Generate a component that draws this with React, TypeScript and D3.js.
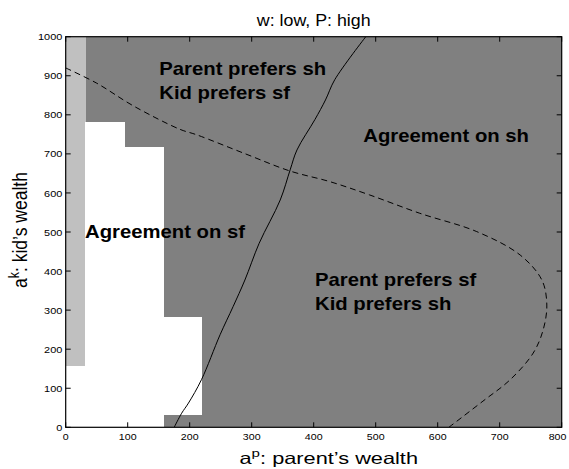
import React from "react";
import * as d3 from "d3";

const W = 569;
const H = 469;
const X_DOMAIN = [0, 800];
const Y_DOMAIN = [0, 1000];
const X_TICKS = [0, 100, 200, 300, 400, 500, 600, 700, 800];
const Y_TICKS = [0, 100, 200, 300, 400, 500, 600, 700, 800, 900, 1000];

// region patches [x0, x1, y0, y1]
const LIGHT_CELLS = [[0, 31.25, 156.25, 1000]];
const WHITE_CELLS = [
  [0, 31.25, 0, 156.25],
  [31.25, 93.75, 0, 781.25],
  [93.75, 156.25, 0, 718.75],
  [156.25, 218.75, 31.25, 281.25],
];

// solid curve (parent indifference)
const SOLID_X = [175, 187, 198, 219, 249, 270, 289, 312, 346, 362, 373, 402, 419, 434, 484];
const SOLID_Y = [0, 36, 62, 122, 237, 309, 377, 471, 582, 659, 710, 788, 838, 890, 1000];

// dashed curve (kid indifference)
const DASH_X = [0, 50, 109, 184, 211, 290, 362, 426, 490, 571, 663, 733, 768, 776, 770, 754, 717, 673, 618];
const DASH_Y = [920, 881, 823, 763, 749, 700, 656, 629, 595, 548, 501, 441, 377, 313, 249, 190, 122, 67, 0];

const LABELS = [
  { lines: ["Parent prefers sh", "Kid prefers sf"], x: 159.3, y: 74.5 },
  { lines: ["Agreement on sh"], x: 363.3, y: 141.7 },
  { lines: ["Agreement on sf"], x: 85, y: 238.3 },
  { lines: ["Parent prefers sf", "Kid prefers sh"], x: 315, y: 285.5 },
];

const FONT = "'Liberation Sans', Arial, Helvetica, sans-serif";

export default function App() {
  const x = d3.scaleLinear().domain(X_DOMAIN).range([65.7, 561.7]);
  const y = d3.scaleLinear().domain(Y_DOMAIN).range([427.3, 36.7]);
  const x0 = x(0), x1 = x(800), y0 = y(0), y1 = y(1000);

  const line = d3
    .line<[number, number]>()
    .x((d) => x(d[0]))
    .y((d) => y(d[1]))
    .curve(d3.curveCatmullRom.alpha(0.5));

  const solid = SOLID_X.map((v, i) => [v, SOLID_Y[i]] as [number, number]);
  const dashed = DASH_X.map((v, i) => [v, DASH_Y[i]] as [number, number]);

  const rect = (c: number[], fill: string, k: string) => (
    <rect
      key={k}
      x={Math.round(x(c[0]))}
      y={Math.round(y(c[3]))}
      width={Math.round(x(c[1])) - Math.round(x(c[0])) + 0.5}
      height={Math.round(y(c[2])) - Math.round(y(c[3]))}
      fill={fill}
      shapeRendering="crispEdges"
    />
  );

  return (
    <svg
      width={W}
      height={H}
      style={{ position: "fixed", left: 0, top: 0, background: "#fff" }}
      fontFamily={FONT}
    >
      <defs>
        <clipPath id="plot">
          <rect x={x0} y={y1} width={x1 - x0} height={y0 - y1} />
        </clipPath>
      </defs>
      <rect x={0} y={0} width={W} height={H} fill="#fff" />
      <g clipPath="url(#plot)">
        <rect x={x0} y={y1} width={x1 - x0} height={y0 - y1} fill="#808080" shapeRendering="crispEdges" />
        {LIGHT_CELLS.map((c, i) => rect(c, "#c0c0c0", "l" + i))}
        {WHITE_CELLS.map((c, i) => rect(c, "#ffffff", "w" + i))}
        <path d={line(solid) || ""} fill="none" stroke="#000" strokeWidth={1} />
        <path d={line(dashed) || ""} fill="none" stroke="#000" strokeWidth={1} strokeDasharray="6,4" />
      </g>

      {LABELS.map((l, i) =>
        l.lines.map((t, j) => (
          <g key={i + "-" + j} transform={`translate(${l.x},${l.y + j * 24}) scale(1.14,1)`}>
            <text x={0} y={0} fontSize={17.8} fontWeight="bold" fill="#000">
              {t}
            </text>
          </g>
        ))
      )}

      {/* axes box */}
      <rect x={x0} y={y1} width={x1 - x0} height={y0 - y1} fill="none" stroke="#000" strokeWidth={1.2} />

      {X_TICKS.map((t) => (
        <g key={"xt" + t}>
          <line x1={x(t)} x2={x(t)} y1={y0} y2={y0 - 5} stroke="#000" />
          <line x1={x(t)} x2={x(t)} y1={y1} y2={y1 + 5} stroke="#000" />
          <g transform={`translate(${Math.min(x(t), 557.5)},440) scale(1.12,1)`}>
            <text textAnchor="middle" fontSize={9.5} fill="#000">
              {t}
            </text>
          </g>
        </g>
      ))}
      {Y_TICKS.map((t) => (
        <g key={"yt" + t}>
          <line x1={x0} x2={x0 + 5} y1={y(t)} y2={y(t)} stroke="#000" />
          <line x1={x1} x2={x1 - 5} y1={y(t)} y2={y(t)} stroke="#000" />
          <g transform={`translate(62.3,${y(t) + 3.6}) scale(1.15,1)`}>
            <text textAnchor="end" fontSize={9.5} fill="#000">
              {t}
            </text>
          </g>
        </g>
      ))}

      {/* title */}
      <g transform={`translate(${(x0 + x1) / 2},26.3) scale(1.1,1)`}>
        <text textAnchor="middle" fontSize={16.2} fill="#000">
          w: low, P: high
        </text>
      </g>

      {/* x label */}
      <text x={239.5} y={464} fontSize={16.5} fill="#000" textLength={178.5} lengthAdjust="spacingAndGlyphs">
        a<tspan dy={-7} fontSize={11.5}>p</tspan>
        <tspan dy={7}>: parent’s wealth</tspan>
      </text>

      {/* y label */}
      <g transform={`translate(26.7,288) scale(1.17,1) rotate(-90)`}>
        <text x={0} y={0} fontSize={17} fill="#000" textLength={116} lengthAdjust="spacingAndGlyphs">
          a<tspan dy={-7} fontSize={12}>k</tspan>
          <tspan dy={7}>: kid’s wealth</tspan>
        </text>
      </g>
    </svg>
  );
}
